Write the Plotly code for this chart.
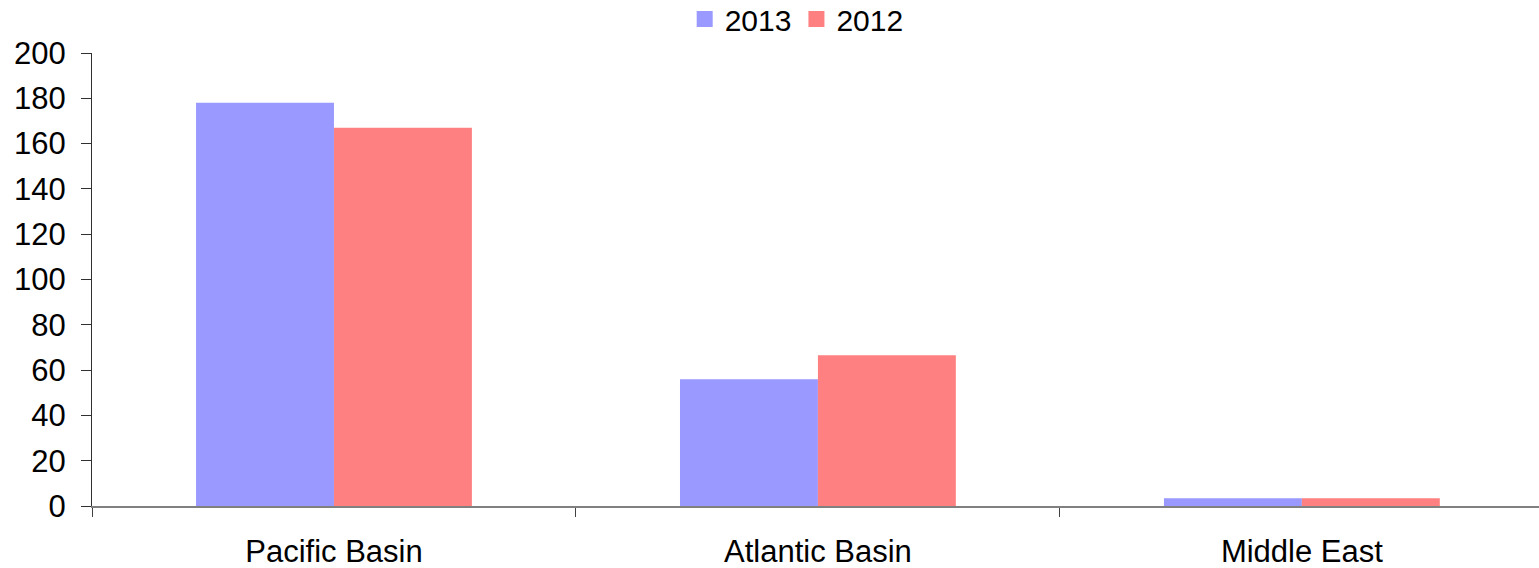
import plotly.graph_objects as go

categories = ["Pacific Basin", "Atlantic Basin", "Middle East"]
series_names = ["2013", "2012"]
values_2013 = [178.0, 56.0, 3.4]
values_2012 = [167.0, 66.6, 3.4]
y_ticks = [0, 20, 40, 60, 80, 100, 120, 140, 160, 180, 200]

colors = {"2013": "#9999FF", "2012": "#FF8080"}
font_family = "Liberation Sans, Arial, sans-serif"

fig = go.Figure()
for name, vals in zip(series_names, [values_2013, values_2012]):
    fig.add_trace(go.Bar(name=name, x=categories, y=vals, legendgroup=name,
                         showlegend=False,
                         marker=dict(color=colors[name], line=dict(width=0))))

# square legend swatches
for name in series_names:
    fig.add_trace(go.Scatter(name=name, x=[None], y=[None], mode="markers",
                             legendgroup=name, showlegend=True,
                             marker=dict(symbol="square", size=20, color=colors[name])))

fig.update_layout(
    width=1539, height=568,
    margin=dict(l=92, r=0, t=53, b=62, autoexpand=False),
    barmode="group", bargap=0.43, bargroupgap=0,
    plot_bgcolor="white", paper_bgcolor="white",
    font=dict(family=font_family, color="black", size=31),
    legend=dict(orientation="h", x=0.487, xanchor="center", y=1.075, yanchor="middle",
                font=dict(size=30), itemwidth=30, traceorder="normal",
                tracegroupgap=0, bgcolor="rgba(0,0,0,0)"),
    xaxis=dict(range=[-0.5, 2.49], showline=True, linecolor="#808080", linewidth=2,
               ticks="outside", tickson="boundaries", ticklen=9, tickcolor="#404040",
               tickwidth=1, tickfont=dict(size=31), ticklabelstandoff=17,
               showgrid=False, zeroline=False),
    yaxis=dict(range=[0, 200], tickvals=y_ticks, showline=True, linecolor="#303030",
               linewidth=1, ticks="outside", ticklen=10, tickcolor="#303030",
               tickfont=dict(size=31), showgrid=False, zeroline=False,
               ticklabelstandoff=9),
)

fig.write_html("out.html")
